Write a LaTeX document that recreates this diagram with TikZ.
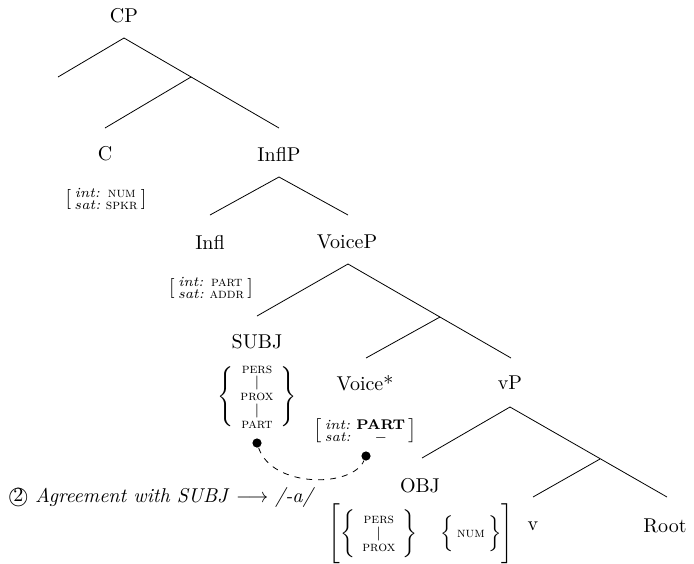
\documentclass[tikz,border=0pt]{standalone}
\usepackage{amsmath}
\begin{document}
\begin{tikzpicture}[x=0.5pt,y=-0.5pt,
  lbl/.style={inner sep=0pt},
  feat/.style={inner sep=0pt},
  dotnode/.style={circle, fill=black, inner sep=0pt, minimum size=4.6pt},
  branch/.style={line width=0.4pt},
  agree/.style={dashed, line width=0.4pt}]
\useasboundingbox (0,0) rectangle (694,563);

% labels
\node[lbl] (CP) at (124,16) {CP};
\node[lbl] (C) at (105,154) {C};
\node[lbl] (InflP) at (279,154) {InflP};
\node[lbl] (Infl) at (210,242) {Infl};
\node[lbl] (VoiceP) at (347,242) {VoiceP};
\node[lbl] (SUBJ) at (257,342) {SUBJ};
\node[lbl] (Voice) at (365,383) {Voice*};
\node[lbl] (vP) at (510,383) {vP};
\node[lbl] (OBJ) at (420,486) {OBJ};
\node[lbl] (v) at (533,526) {v};
\node[lbl] (Root) at (665,526) {Root};

% feature bundles
\node[feat] (Cf) at (106,199) {$\left[\begin{smallmatrix}\textit{int:} & \textsc{num}\\ \textit{sat:} & \textsc{spkr}\end{smallmatrix}\right]$};
\node[feat] (Inflf) at (211,288) {$\left[\begin{smallmatrix}\textit{int:} & \textsc{part}\\ \textit{sat:} & \textsc{addr}\end{smallmatrix}\right]$};
\node[feat] (SUBJf) at (257,397) {$\left\{\,\begin{smallmatrix}\textsc{pers}\\ |\\ \textsc{prox}\\ |\\ \textsc{part}\end{smallmatrix}\,\right\}$};
\node[feat] (Voicef) at (365,431) {$\left[\begin{smallmatrix}\textit{int:} & \textbf{PART}\\ \textit{sat:} & -\end{smallmatrix}\right]$};
\node[feat] (OBJf) at (421,534) {$\left[\left\{\,\begin{smallmatrix}\textsc{pers}\\ |\\ \textsc{prox}\end{smallmatrix}\,\rule[-10pt]{0pt}{25pt}\right\}\quad\Bigl\{\begin{smallmatrix}\textsc{num}\end{smallmatrix}\Bigr\}\rule[-12pt]{0pt}{29pt}\right]$};

% annotation
\node[lbl, anchor=west] (note) at (8,497) {\textcircled{2} \textit{Agreement with SUBJ} $\longrightarrow$ \textit{/-a/}};

% tree coordinates
\coordinate (cpA) at (124,38);
\coordinate (cpL) at (58,77);
\coordinate (cpB) at (191,77);
\coordinate (cT) at (105,128);
\coordinate (ipT) at (279,128);
\coordinate (ipA) at (279,177);
\coordinate (iT) at (210,215);
\coordinate (vpT) at (348,215);
\coordinate (vpA) at (348,264);
\coordinate (sT) at (257,316);
\coordinate (vpB) at (440,317);
\coordinate (voT) at (366,358);
\coordinate (lvT) at (511,358);
\coordinate (lvA) at (510,407);
\coordinate (oT) at (422,458);
\coordinate (lvB) at (600,459);
\coordinate (vT) at (533,497);
\coordinate (rT) at (667,497);

\draw[branch] (cpA) -- (cpL);
\draw[branch] (cpA) -- (ipT);
\draw[branch] (cpB) -- (cT);
\draw[branch] (ipA) -- (iT);
\draw[branch] (ipA) -- (vpT);
\draw[branch] (vpA) -- (sT);
\draw[branch] (vpA) -- (lvT);
\draw[branch] (vpB) -- (voT);
\draw[branch] (lvA) -- (oT);
\draw[branch] (lvA) -- (rT);
\draw[branch] (lvB) -- (vT);

% agreement link
\node[dotnode] (d1) at (257,443) {};
\node[dotnode] (d2) at (366,456) {};
\draw[agree] (d1) .. controls (272,488) and (352,488) .. (d2);
\end{tikzpicture}
\end{document}
